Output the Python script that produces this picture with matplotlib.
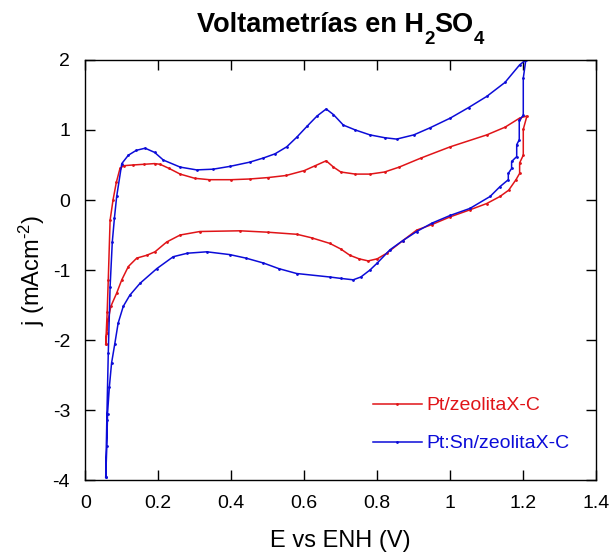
import matplotlib
matplotlib.use("Agg")
import matplotlib.pyplot as plt

plt.rcParams['font.family'] = ['Liberation Sans', 'DejaVu Sans']
plt.rcParams['mathtext.fontset'] = 'custom'
plt.rcParams['mathtext.rm'] = 'Liberation Sans'
plt.rcParams['mathtext.bf'] = 'Liberation Sans:bold'
plt.rcParams['mathtext.it'] = 'Liberation Sans:italic'
plt.rcParams['axes.unicode_minus'] = False

title_parts = ["Voltametrías en H", "2", "SO", "4"]
xlabel = "E vs ENH (V)"
ylabel = r"j (mAcm$^{\text{-2}}$)"
labels = ["Pt/zeolitaX-C", "Pt:Sn/zeolitaX-C"]
xticks = [0, 0.2, 0.4, 0.6, 0.8, 1, 1.2, 1.4]
xticklabels = ["0", "0.2", "0.4", "0.6", "0.8", "1", "1.2", "1.4"]
yticks = [-4, -3, -2, -1, 0, 1, 2]

# Pt/zeolitaX-C (anodic then cathodic sweep)
red_E = [0.056, 0.060, 0.063, 0.068, 0.076, 0.085, 0.095, 0.105, 0.13, 0.16, 0.19, 0.205,
         0.23, 0.26, 0.30, 0.34, 0.40, 0.45, 0.50, 0.55, 0.60, 0.63, 0.66, 0.68, 0.70,
         0.74, 0.78, 0.82, 0.86, 0.92, 1.00, 1.10, 1.15, 1.19, 1.21,
         1.20, 1.20, 1.19, 1.19, 1.18, 1.16, 1.136, 1.10, 1.054, 1.00, 0.95, 0.908, 0.87,
         0.826, 0.80, 0.775, 0.75, 0.725, 0.70, 0.67, 0.62, 0.58, 0.50, 0.424, 0.314,
         0.26, 0.223, 0.191, 0.168, 0.141, 0.118, 0.10, 0.086, 0.070, 0.063, 0.059, 0.056]
red_j = [-2.06, -1.6, -1.14, -0.29, 0.0, 0.25, 0.45, 0.49, 0.50, 0.51, 0.52, 0.51,
         0.45, 0.37, 0.31, 0.29, 0.29, 0.30, 0.32, 0.35, 0.42, 0.49, 0.56, 0.47, 0.40,
         0.37, 0.37, 0.40, 0.47, 0.60, 0.76, 0.93, 1.04, 1.17, 1.20,
         1.01, 0.64, 0.53, 0.38, 0.29, 0.14, 0.05, -0.05, -0.14, -0.24, -0.35, -0.43, -0.58,
         -0.76, -0.84, -0.87, -0.84, -0.79, -0.70, -0.62, -0.54, -0.49, -0.46, -0.44, -0.45,
         -0.50, -0.60, -0.74, -0.79, -0.83, -0.95, -1.14, -1.33, -1.52, -1.71, -1.9, -2.06]

# Pt:Sn/zeolitaX-C
blue_E = [0.056, 0.059, 0.063, 0.068, 0.074, 0.08, 0.086, 0.10, 0.118, 0.14, 0.164, 0.19,
          0.214, 0.26, 0.305, 0.35, 0.396, 0.45, 0.488, 0.52, 0.552, 0.58, 0.607, 0.635,
          0.66, 0.68, 0.707, 0.74, 0.78, 0.82, 0.853, 0.90, 0.944, 1.0, 1.05, 1.10, 1.15,
          1.19, 1.207,
          1.20, 1.20, 1.189, 1.189, 1.182, 1.182, 1.168, 1.168, 1.159, 1.159, 1.136, 1.109,
          1.054, 1.0, 0.95, 0.908, 0.87, 0.835, 0.80, 0.78, 0.755, 0.734, 0.70, 0.67, 0.579,
          0.53, 0.488, 0.44, 0.396, 0.333, 0.28, 0.241, 0.196, 0.15, 0.122, 0.104, 0.09,
          0.081, 0.072, 0.066, 0.061, 0.059, 0.056]
blue_j = [-3.96, -3.14, -2.19, -1.24, -0.6, -0.25, 0.05, 0.52, 0.64, 0.71, 0.74, 0.68,
          0.57, 0.47, 0.43, 0.44, 0.48, 0.54, 0.60, 0.66, 0.76, 0.90, 1.05, 1.20,
          1.30, 1.22, 1.07, 1.00, 0.93, 0.89, 0.87, 0.93, 1.03, 1.17, 1.32, 1.48, 1.68,
          1.93, 2.0,
          1.74, 1.21, 1.14, 0.86, 0.79, 0.62, 0.55, 0.45, 0.38, 0.29, 0.19, 0.05,
          -0.12, -0.22, -0.33, -0.45, -0.58, -0.71, -0.90, -1.0, -1.10, -1.14, -1.12, -1.10, -1.05,
          -0.98, -0.90, -0.83, -0.78, -0.74, -0.76, -0.81, -0.98, -1.19, -1.36, -1.52, -1.76,
          -2.05, -2.33, -2.67, -3.05, -3.52, -3.96]

red_c = '#e01418'
blue_c = '#0c0cd8'

W, H = 610, 557
fig = plt.figure(figsize=(W / 100, H / 100), dpi=100)
ax = fig.add_axes([0.1398, 0.1382, 0.9775 - 0.1398, 0.8923 - 0.1382])

ax.plot(red_E, red_j, color=red_c, lw=1.1, marker='.', ms=2, label=labels[0])
ax.plot(blue_E, blue_j, color=blue_c, lw=1.1, marker='.', ms=2, label=labels[1])

ax.set_xlim(0, 1.4)
ax.set_ylim(-4, 2)
ax.set_xticks(xticks)
ax.set_xticklabels(xticklabels)
ax.set_yticks(yticks)
ax.tick_params(direction='in', length=7, width=1, top=True, right=True,
               labelsize=14, colors='black')
ax.tick_params(axis='x', pad=11)
ax.tick_params(axis='y', pad=11)
for s in ax.spines.values():
    s.set_linewidth(1.0)

ax.set_xlabel(xlabel, fontsize=17, labelpad=13)
ax.set_ylabel(ylabel, fontsize=17, labelpad=4)

ax.legend(loc='upper left', bbox_to_anchor=(0.563, 0.198), frameon=False,
          fontsize=14, labelcolor='linecolor', handlelength=2.5, handletextpad=0.26,
          labelspacing=1.05, borderpad=0, borderaxespad=0, markerscale=1)

# Title with low-set subscripts, built from text runs
fig.canvas.draw()
renderer = fig.canvas.get_renderer()
sizes = [19.5, 13.5, 19.5, 13.5]
drops = [0, -12, 0, -12]
base_y = 31.5  # baseline, pixels from top
runs = []
for s, fs in zip(title_parts, sizes):
    t = fig.text(0, 0, s, fontsize=fs, fontweight='bold', ha='left', va='baseline')
    runs.append(t)
widths = [t.get_window_extent(renderer).width for t in runs]
total = sum(widths)
ax_bb = ax.get_window_extent(renderer)
cx = (ax_bb.x0 + ax_bb.x1) / 2
x = cx - total / 2
for t, w, d in zip(runs, widths, drops):
    t.set_position((x / W, (H - base_y + d) / H))
    x += w

fig.savefig('out.png', dpi=100)
